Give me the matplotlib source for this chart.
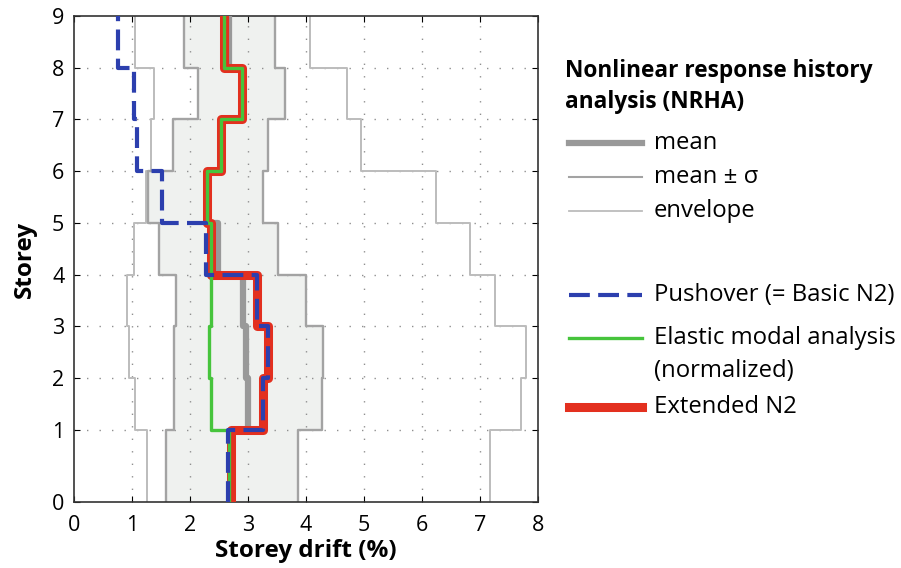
import numpy as np
import matplotlib
matplotlib.use("Agg")
from matplotlib import pyplot as plt
from matplotlib.lines import Line2D

plt.rcParams['font.family'] = ['Open Sans', 'DejaVu Sans']

# storey heights (ground storey taller), storeys 1..9 bottom to top
storey_h = [1.4, 1, 1, 1, 1, 1, 1, 1, 1]
level_labels = ['0', '1', '2', '3', '4', '5', '6', '7', '8', '9']

# storey drifts (%) for storeys 1..9
env_lo = [1.26, 1.06, 0.94, 0.92, 1.04, 1.24, 1.32, 1.38, 1.05]
env_hi = [7.18, 7.70, 7.80, 7.26, 6.83, 6.24, 4.94, 4.70, 4.07]
sig_lo = [1.58, 1.72, 1.72, 1.75, 1.46, 1.28, 1.71, 2.14, 1.90]
sig_hi = [3.87, 4.27, 4.30, 4.00, 3.52, 3.26, 3.35, 3.64, 3.47]
mean = [2.72, 3.00, 2.97, 2.92, 2.48, 2.30, 2.55, 2.90, 2.67]
pushover = [2.65, 3.26, 3.35, 3.15, 2.28, 1.52, 1.08, 1.03, 0.75]
elastic = [2.68, 2.36, 2.33, 2.37, 2.36, 2.30, 2.53, 2.90, 2.59]
extended = [2.71, 3.26, 3.35, 3.15, 2.36, 2.30, 2.53, 2.90, 2.59]

levels = np.concatenate([[0], np.cumsum(storey_h)])
ys = np.repeat(levels, 2)[1:-1]


def steps(v):
    return np.repeat(v, 2)


fig = plt.figure(figsize=(9.01, 5.68), dpi=100)
ax = fig.add_axes([74 / 901, 1 - 502.3 / 568, 464 / 901, 486.3 / 568])

ax.fill_betweenx(ys, steps(sig_lo), steps(sig_hi), color='#eff1ef', lw=0, zorder=1)

for xg in range(1, 8):
    ax.axvline(xg, color='#909090', lw=1, ls=(0, (1, 8)), zorder=1.5)
for yg in levels[1:-1]:
    ax.axhline(yg, color='#909090', lw=1, ls=(0, (1, 8)), zorder=1.5)

c_env = '#bcbcbc'
c_sig = '#a3a3a3'
c_mean = '#999999'
ax.plot(steps(env_lo), ys, color=c_env, lw=1.4, zorder=2)
ax.plot(steps(env_hi), ys, color=c_env, lw=1.4, zorder=2)
ax.plot(steps(sig_lo), ys, color=c_sig, lw=1.7, zorder=2)
ax.plot(steps(sig_hi), ys, color=c_sig, lw=1.7, zorder=2)
ax.plot(steps(mean), ys, color=c_mean, lw=4.5, zorder=3)

c_red = '#e3301f'
c_green = '#46c43c'
c_blue = '#2c3fae'
dash = (0, (5, 2))
ax.plot(steps(extended), ys, color=c_red, lw=6.5, zorder=4)
ax.plot(steps(elastic), ys, color=c_green, lw=2.4, zorder=5)
ax.plot(steps(pushover), ys, color=c_blue, lw=3, ls=dash, zorder=6)

ax.set_xlim(0, 8)
ax.set_ylim(0, levels[-1])
ax.set_xticks(range(0, 9))
ax.set_yticks(levels)
ax.set_yticklabels(level_labels)
ax.tick_params(direction='in', top=True, right=True, length=4, labelsize=15.5)
ax.tick_params(axis='x', pad=9)
ax.tick_params(axis='y', pad=7)
for s in ax.spines.values():
    s.set_color('#333333')
    s.set_linewidth(1.2)
ax.set_xlabel('Storey drift (%)', fontsize=17.5, fontweight='bold', labelpad=2)
ax.set_ylabel('Storey', fontsize=17.5, fontweight='bold', labelpad=11)


# legend drawn by hand at the right
def fx(px):
    return px / 901


def fy(py):
    return 1 - py / 568


fig.text(fx(565), fy(71), 'Nonlinear response history', fontsize=16.3,
         fontweight='bold', va='center', ha='left')
fig.text(fx(565), fy(102), 'analysis (NRHA)', fontsize=16.3,
         fontweight='bold', va='center', ha='left')

leg = [
    (143, c_mean, 4.5, '-', 'mean'),
    (177, c_sig, 1.5, '-', 'mean ± σ'),
    (211, c_env, 1.3, '-', 'envelope'),
    (295, c_blue, 3, dash, 'Pushover (= Basic N2)'),
    (338, c_green, 2.4, '-', 'Elastic modal analysis'),
    (407, c_red, 6.5, '-', 'Extended N2'),
]
for py, col, lw, ls, lab in leg:
    fig.add_artist(Line2D([fx(569), fx(642)], [fy(py), fy(py)], color=col, lw=lw,
                          ls=ls, transform=fig.transFigure))
    fig.text(fx(654), fy(py), lab, fontsize=17.2, va='center', ha='left')
fig.text(fx(654), fy(371), '(normalized)', fontsize=17.2, va='center', ha='left')

fig.savefig('out.png', dpi=100)
